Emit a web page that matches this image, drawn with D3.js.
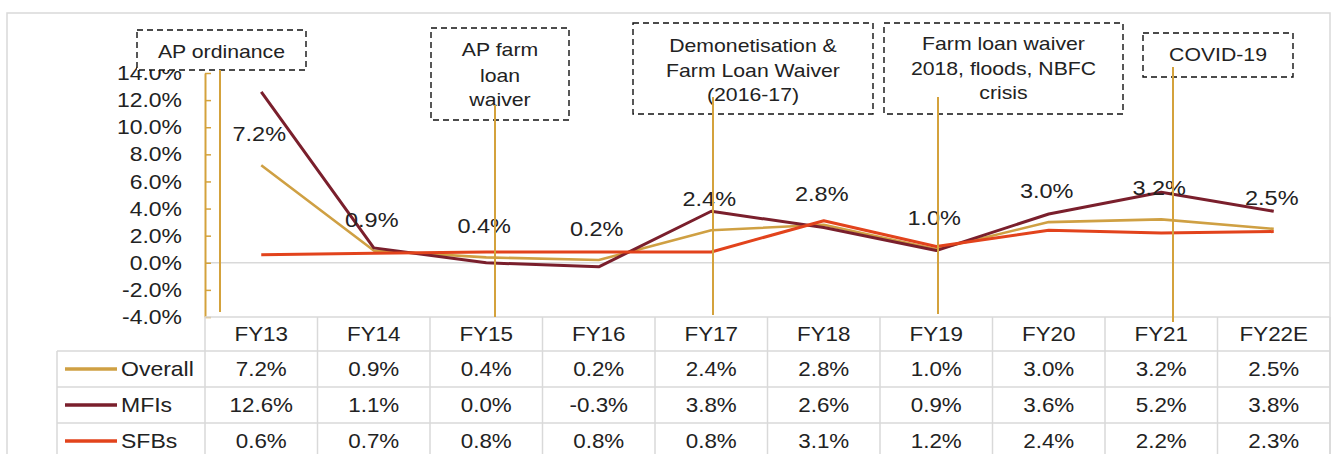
<!DOCTYPE html>
<html lang="en">
<head>
  <meta charset="UTF-8">
  <title>Credit cost trend</title>
  <script src="https://d3js.org/d3.v7.min.js"></script>
  <style>
    body { margin: 0; padding: 0; background: #fff; }
    svg { display: block; font-family: "Liberation Sans", Arial, sans-serif; }
    .grid { stroke: #d9d9d9; stroke-width: 1.5; }
    .box { fill: #fff; stroke: #111; stroke-width: 1.4; stroke-dasharray: 6 4; }
    text { fill: #222; }
  </style>
</head>
<body>
<svg id="chart" width="1333" height="454"></svg>

<script>
  const categories = ["FY13", "FY14", "FY15", "FY16", "FY17", "FY18", "FY19", "FY20", "FY21", "FY22E"];
  const overall = [7.2, 0.9, 0.4, 0.2, 2.4, 2.8, 1.0, 3.0, 3.2, 2.5];
  const mfis    = [12.6, 1.1, 0.0, -0.3, 3.8, 2.6, 0.9, 3.6, 5.2, 3.8];
  const sfbs    = [0.6, 0.7, 0.8, 0.8, 0.8, 3.1, 1.2, 2.4, 2.2, 2.3];
  const yTicks  = [-4, -2, 0, 2, 4, 6, 8, 10, 12, 14];

  const series = [
    { name: "Overall", values: overall, color: "#cfa043", width: 2.6 },
    { name: "MFIs",    values: mfis,    color: "#7a1f2c", width: 3 },
    { name: "SFBs",    values: sfbs,    color: "#e2431c", width: 3 }
  ];

  // event call-outs: text lines, box (px) and the leader line
  const events = [
    { lines: ["AP ordinance"], box: [137, 30, 306, 70], textY: [52], lineX: 220, lineY: [70, 312] },
    { lines: ["AP farm", "loan", "waiver"], box: [431, 28, 569, 120], textY: [50, 76, 100], lineX: 495, lineY: [105, 317] },
    { lines: ["Demonetisation &", "Farm Loan Waiver", "(2016-17)"], box: [633, 23, 873, 114], textY: [46, 71, 95], lineX: 713, lineY: [97, 315] },
    { lines: ["Farm loan waiver", "2018, floods, NBFC", "crisis"], box: [884, 23, 1123, 114], textY: [44, 69, 93], lineX: 938, lineY: [97, 314] },
    { lines: ["COVID-19"], box: [1143, 33, 1293, 77], textY: [55], lineX: 1173, lineY: [67, 322] }
  ];

  // the source text is a little wide
  function stretch(sel, sx = 1.12) {
    sel.attr("transform", function () {
      const x = +this.getAttribute("x") || 0;
      return `translate(${x},0) scale(${sx},1) translate(${-x},0)`;
    });
  }

  const svg = d3.select("#chart");
  const plotLeft = 205, plotRight = 1330, plotTop = 73, plotBottom = 317;
  const tableTop = 317, headH = 34, rowH = 36, legendLeft = 57;

  const x = d3.scaleBand().domain(categories).range([plotLeft, plotRight]);
  const y = d3.scaleLinear().domain([-4, 14]).range([plotBottom, plotTop]);
  const cx = i => x(categories[i]) + x.bandwidth() / 2;

  // chart area frame
  svg.append("rect").attr("x", 7).attr("y", 13).attr("width", 1323).attr("height", 460)
    .attr("fill", "none").attr("stroke", "#d9d9d9").attr("stroke-width", 1.5);

  // zero line
  svg.append("line").attr("class", "grid")
    .attr("x1", plotLeft).attr("x2", plotRight).attr("y1", y(0)).attr("y2", y(0));

  // y axis
  const yAxis = svg.append("g")
    .attr("transform", `translate(${plotLeft},0)`)
    .call(d3.axisLeft(y).tickValues(yTicks).tickSizeInner(-6).tickSizeOuter(0)
      .tickPadding(23).tickFormat(d => d.toFixed(1) + "%"));
  yAxis.select(".domain").attr("stroke", "#d4a23c").attr("stroke-width", 2);
  yAxis.selectAll(".tick line").attr("stroke", "#d4a23c").attr("stroke-width", 1.5);
  yAxis.selectAll("text").attr("font-size", 20.5).attr("fill", "#222")
    .attr("font-family", "Liberation Sans, Arial, sans-serif").call(stretch);

  // data table
  const tbl = svg.append("g");
  tbl.append("line").attr("class", "grid").attr("x1", plotLeft).attr("x2", plotRight)
    .attr("y1", tableTop).attr("y2", tableTop);
  series.forEach((s, r) => {
    const yy = tableTop + headH + r * rowH;
    tbl.append("line").attr("class", "grid").attr("x1", legendLeft).attr("x2", plotRight)
      .attr("y1", yy).attr("y2", yy);
  });
  tbl.append("line").attr("class", "grid").attr("x1", legendLeft).attr("x2", legendLeft)
    .attr("y1", tableTop + headH).attr("y2", 454);
  d3.range(categories.length + 1).forEach(i => {
    const xx = plotLeft + i * x.bandwidth();
    tbl.append("line").attr("class", "grid").attr("x1", xx).attr("x2", xx)
      .attr("y1", tableTop).attr("y2", 454);
  });

  tbl.selectAll("text.head").data(categories).enter().append("text")
    .attr("class", "head")
    .attr("x", (d, i) => cx(i)).attr("y", tableTop + headH / 2 + 7)
    .attr("text-anchor", "middle").attr("font-size", 20)
    .text(d => d).call(stretch);

  series.forEach((s, r) => {
    const rowMid = tableTop + headH + r * rowH + rowH / 2;
    tbl.append("line").attr("x1", 65).attr("x2", 117).attr("y1", rowMid).attr("y2", rowMid)
      .attr("stroke", s.color).attr("stroke-width", 3.5);
    tbl.append("text").attr("x", 121).attr("y", rowMid + 7).attr("font-size", 20)
      .text(s.name).call(stretch, 1.15);
    tbl.selectAll(null).data(s.values).enter().append("text")
      .attr("x", (d, i) => cx(i)).attr("y", rowMid + 7)
      .attr("text-anchor", "middle").attr("font-size", 20)
      .text(d => d.toFixed(1) + "%").call(stretch);
  });

  // lines
  const line = d3.line().x((d, i) => cx(i)).y(d => y(d));
  series.forEach(s => {
    svg.append("path").datum(s.values).attr("d", line)
      .attr("fill", "none").attr("stroke", s.color).attr("stroke-width", s.width)
      .attr("stroke-linejoin", "round");
  });

  // data labels for Overall
  svg.selectAll("text.lbl").data(overall).enter().append("text")
    .attr("class", "lbl")
    .attr("x", (d, i) => cx(i) - 2).attr("y", d => y(d) - 24)
    .attr("text-anchor", "middle").attr("font-size", 21)
    .text(d => d.toFixed(1) + "%").call(stretch);

  // call-out boxes
  events.forEach(e => {
    const [x0, y0, x1, y1] = e.box;
    svg.append("rect").attr("class", "box")
      .attr("x", x0).attr("y", y0).attr("width", x1 - x0).attr("height", y1 - y0);
    e.lines.forEach((t, k) => {
      svg.append("text").attr("x", (x0 + x1) / 2).attr("y", e.textY[k] + 6.5)
        .attr("text-anchor", "middle").attr("font-size", 18)
        .text(t).call(stretch, 1.18);
    });
  });
  events.forEach(e => {
    svg.append("line").attr("x1", e.lineX).attr("x2", e.lineX)
      .attr("y1", e.lineY[0]).attr("y2", e.lineY[1])
      .attr("stroke", "#d4a23c").attr("stroke-width", 2);
  });
</script>
</body>
</html>
